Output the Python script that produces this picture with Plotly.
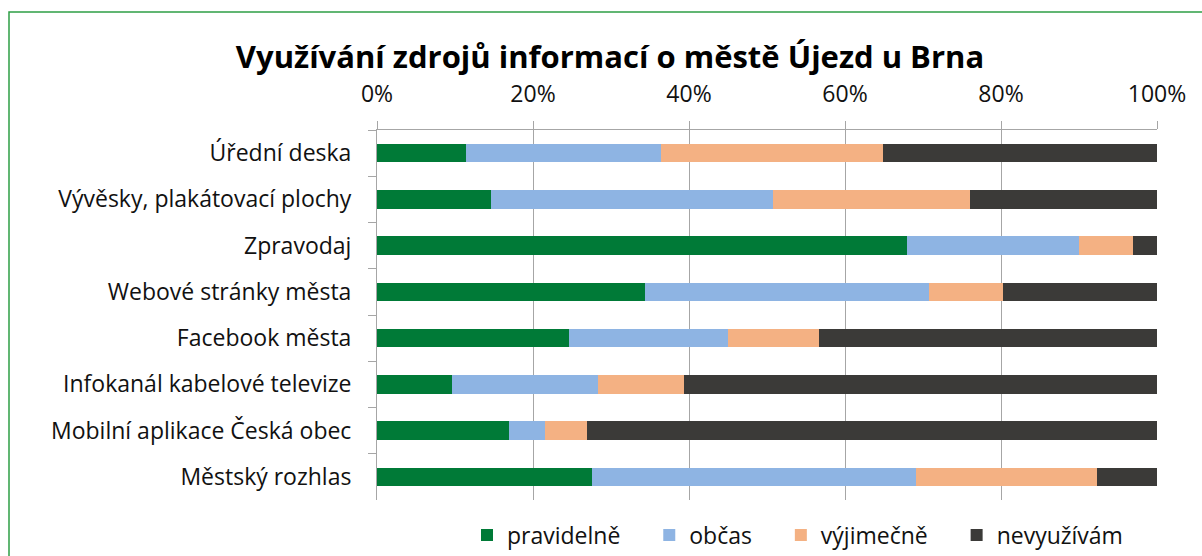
import plotly.graph_objects as go

categories = [
    "Úřední deska",
    "Vývěsky, plakátovací plochy",
    "Zpravodaj",
    "Webové stránky města",
    "Facebook města",
    "Infokanál kabelové televize",
    "Mobilní aplikace Česká obec",
    "Městský rozhlas",
]
pravidelne = [11.4, 14.6, 67.9, 34.3, 24.6, 9.6, 16.9, 27.6]
obcas = [25.0, 36.2, 22.1, 36.5, 20.4, 18.7, 4.6, 41.5]
vyjimecne = [28.5, 25.2, 6.9, 9.5, 11.7, 11.1, 5.4, 23.2]
nevyuzivam = [35.1, 24.0, 3.1, 19.7, 43.3, 60.6, 73.1, 7.7]

series = [
    ("pravidelně", pravidelne, "#007A37"),
    ("občas", obcas, "#8EB4E3"),
    ("výjimečně", vyjimecne, "#F4B183"),
    ("nevyužívám", nevyuzivam, "#3B3A38"),
]

FONT = "'Open Sans', sans-serif"
PAD = "\u00a0" * 4

fig = go.Figure()
for i, (name, vals, color) in enumerate(series):
    fig.add_trace(go.Bar(
        y=categories, x=[v / 100 for v in vals],
        name=name + (PAD if i < len(series) - 1 else ""), orientation="h",
        marker=dict(color=color, line=dict(width=0)),
    ))

W, H = 1202, 556
L, R, T, B = 377, 45, 130, 56
pw, ph = W - L - R, H - T - B

fig.update_layout(
    width=W, height=H,
    barmode="stack", bargap=0.6,
    margin=dict(l=L, r=R, t=T, b=B, autoexpand=False),
    paper_bgcolor="white", plot_bgcolor="white",
    font=dict(family=FONT, size=23, color="#111111"),
    title=dict(text="<b>Využívání zdrojů informací o městě Újezd u Brna</b>",
               x=610 / W, xanchor="center", y=1 - 57 / H, yanchor="middle",
               font=dict(family=FONT, size=31, color="#000000")),
    legend=dict(orientation="h", x=(481 - 14 - L) / pw, xanchor="left",
                y=(T + ph - 535) / ph, yanchor="middle",
                font=dict(size=23), itemwidth=30, traceorder="normal"),
    xaxis=dict(side="top", range=[0, 1], tickformat=".0%", dtick=0.2,
               showgrid=True, gridcolor="#A6A6A6", gridwidth=1,
               showline=True, linecolor="#A6A6A6", linewidth=1,
               ticks="outside", ticklen=8, tickcolor="#A6A6A6",
               ticklabelstandoff=10, zeroline=False, fixedrange=True),
    yaxis=dict(autorange="reversed", showline=True, linecolor="#A6A6A6",
               linewidth=1, ticks="outside", ticklen=8, tickcolor="#A6A6A6",
               tickson="boundaries", ticklabelstandoff=20, showgrid=False),
    shapes=[dict(type="rect", xref="paper", yref="paper",
                 x0=(9 - L) / pw, x1=1.2, y0=-0.5, y1=(T + ph - 12) / ph,
                 line=dict(color="#2E9E45", width=1.5), layer="below")],
)

fig.write_html("out.html", config={"displayModeBar": False},
               post_script="document.body.style.margin='0';")
